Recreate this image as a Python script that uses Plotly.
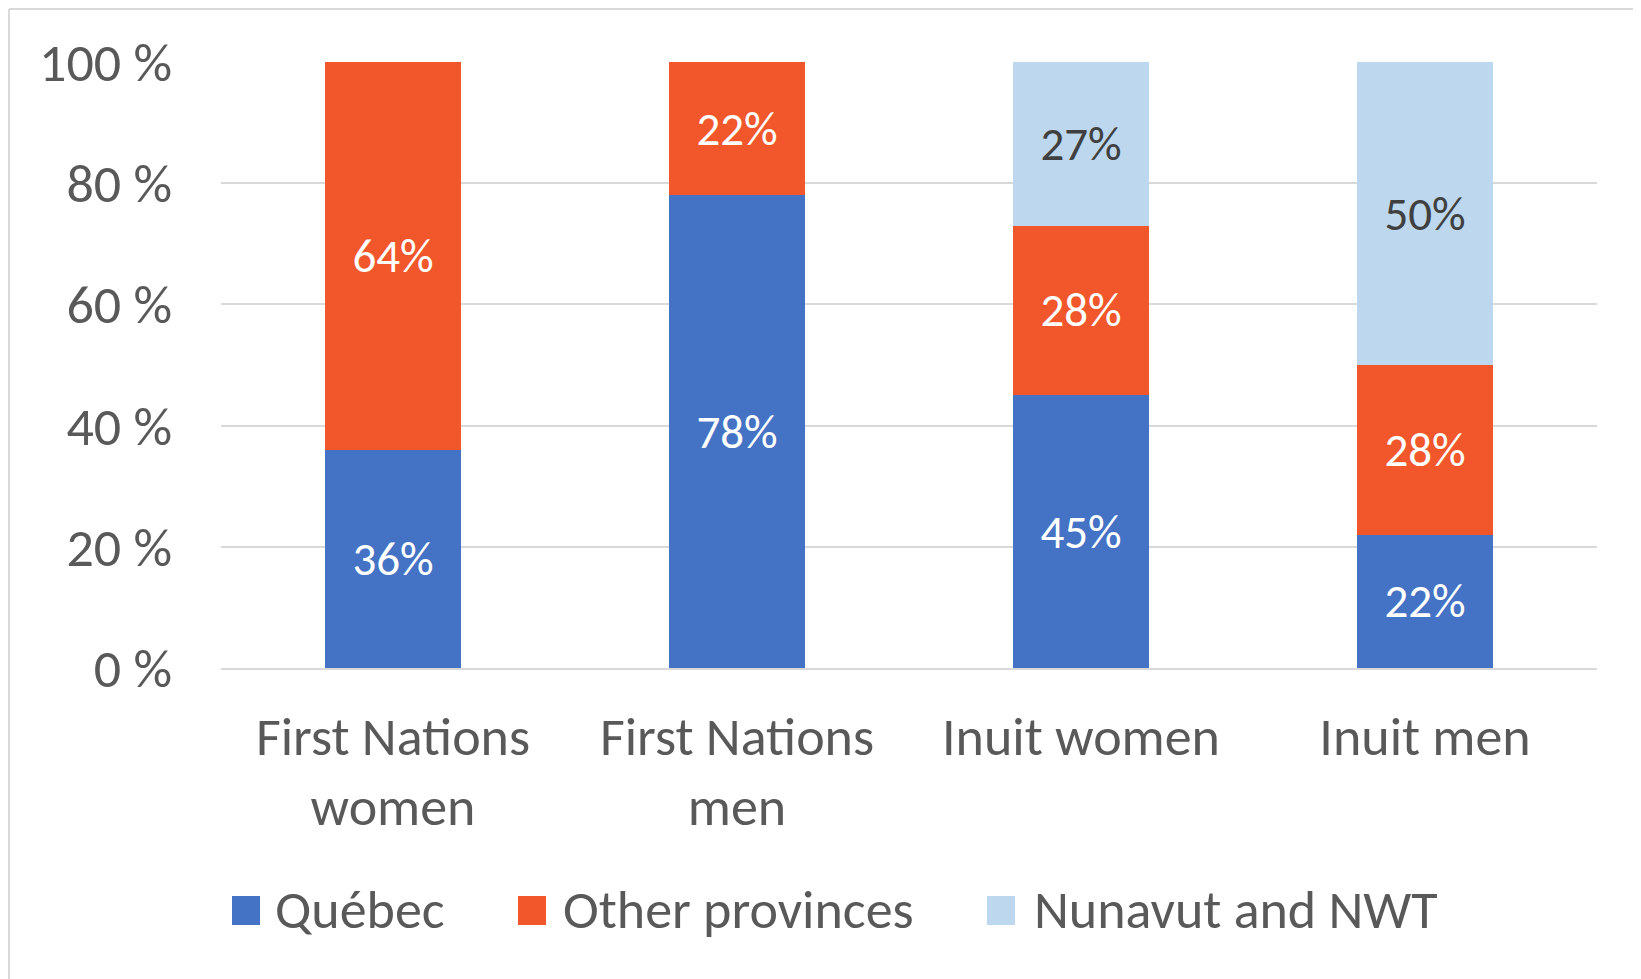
import plotly.graph_objects as go

categories = ["First Nations<br>women", "First Nations<br>men", "Inuit women", "Inuit men"]
series_names = ["Québec", "Other provinces", "Nunavut and NWT"]
quebec = [36, 78, 45, 22]
other_provinces = [64, 22, 28, 28]
nunavut_nwt = [None, None, 27, 50]
y_ticks = [0, 20, 40, 60, 80, 100]
y_tick_labels = ["0 %", "20 %", "40 %", "60 %", "80 %", "100 %"]

colors = ["#4472C4", "#F2572B", "#BDD7EE"]
label_colors = ["#FFFFFF", "#FFFFFF", "#404040"]
FONT = "Carlito, Lato, sans-serif"
AXIS_COLOR = "#595959"

OFF = 8  # page body margin
W, H = 1641 - OFF, 979 - OFF
L, R, T, B = 221 - OFF, 44, 62 - OFF, 311
pw, ph = W - L - R, H - T - B


def px_x(x):
    return (x - OFF - L) / pw


def px_y(y):
    return (H - B - (y - OFF)) / ph


fig = go.Figure()
for name, vals, c, tc in zip(series_names, [quebec, other_provinces, nunavut_nwt], colors, label_colors):
    fig.add_trace(go.Bar(
        x=categories, y=vals, name=name, marker=dict(color=c, line=dict(width=0)),
        texttemplate="%{y:.0f}%", textposition="inside", insidetextanchor="middle",
        textangle=0, constraintext="none",
        textfont=dict(family=FONT, size=47, color=tc),
        showlegend=False, hoverinfo="skip",
    ))

shapes = [
    dict(type="line", xref="paper", yref="paper", x0=px_x(9), x1=px_x(1700), y0=px_y(9), y1=px_y(9),
         line=dict(color="#D9D9D9", width=2)),
    dict(type="line", xref="paper", yref="paper", x0=px_x(9), x1=px_x(9), y0=px_y(9), y1=px_y(1100),
         line=dict(color="#D9D9D9", width=2)),
]
annotations = []
legend_marker_x = [232, 518, 987]
legend_text_x = [275, 563, 1034]
for name, c, mx, tx in zip(series_names, colors, legend_marker_x, legend_text_x):
    shapes.append(dict(type="rect", xref="paper", yref="paper", x0=px_x(mx), x1=px_x(mx + 28),
                       y0=px_y(896), y1=px_y(925), fillcolor=c, line=dict(width=0)))
    annotations.append(dict(xref="paper", yref="paper", x=px_x(tx - 2), y=px_y(910), text=name,
                            showarrow=False, xanchor="left", yanchor="middle",
                            font=dict(family=FONT, size=54, color=AXIS_COLOR)))

fig.update_layout(
    width=W, height=H, barmode="stack", bargap=0.605,
    margin=dict(l=L, r=R, t=T, b=B, autoexpand=False),
    paper_bgcolor="white", plot_bgcolor="white",
    font=dict(family=FONT, color=AXIS_COLOR),
    shapes=shapes, annotations=annotations,
    xaxis=dict(showgrid=False, showline=True, linecolor="#D9D9D9", linewidth=2, ticks="",
               tickfont=dict(family=FONT, size=54, color=AXIS_COLOR), ticklabelstandoff=20),
    yaxis=dict(range=[0, 100], tickvals=y_ticks, ticktext=y_tick_labels, showgrid=True,
               gridcolor="#D9D9D9", gridwidth=2, zeroline=False, showline=False, ticks="",
               tickfont=dict(family=FONT, size=54, color=AXIS_COLOR), ticklabelstandoff=48),
)

fig.write_html("out.html")
